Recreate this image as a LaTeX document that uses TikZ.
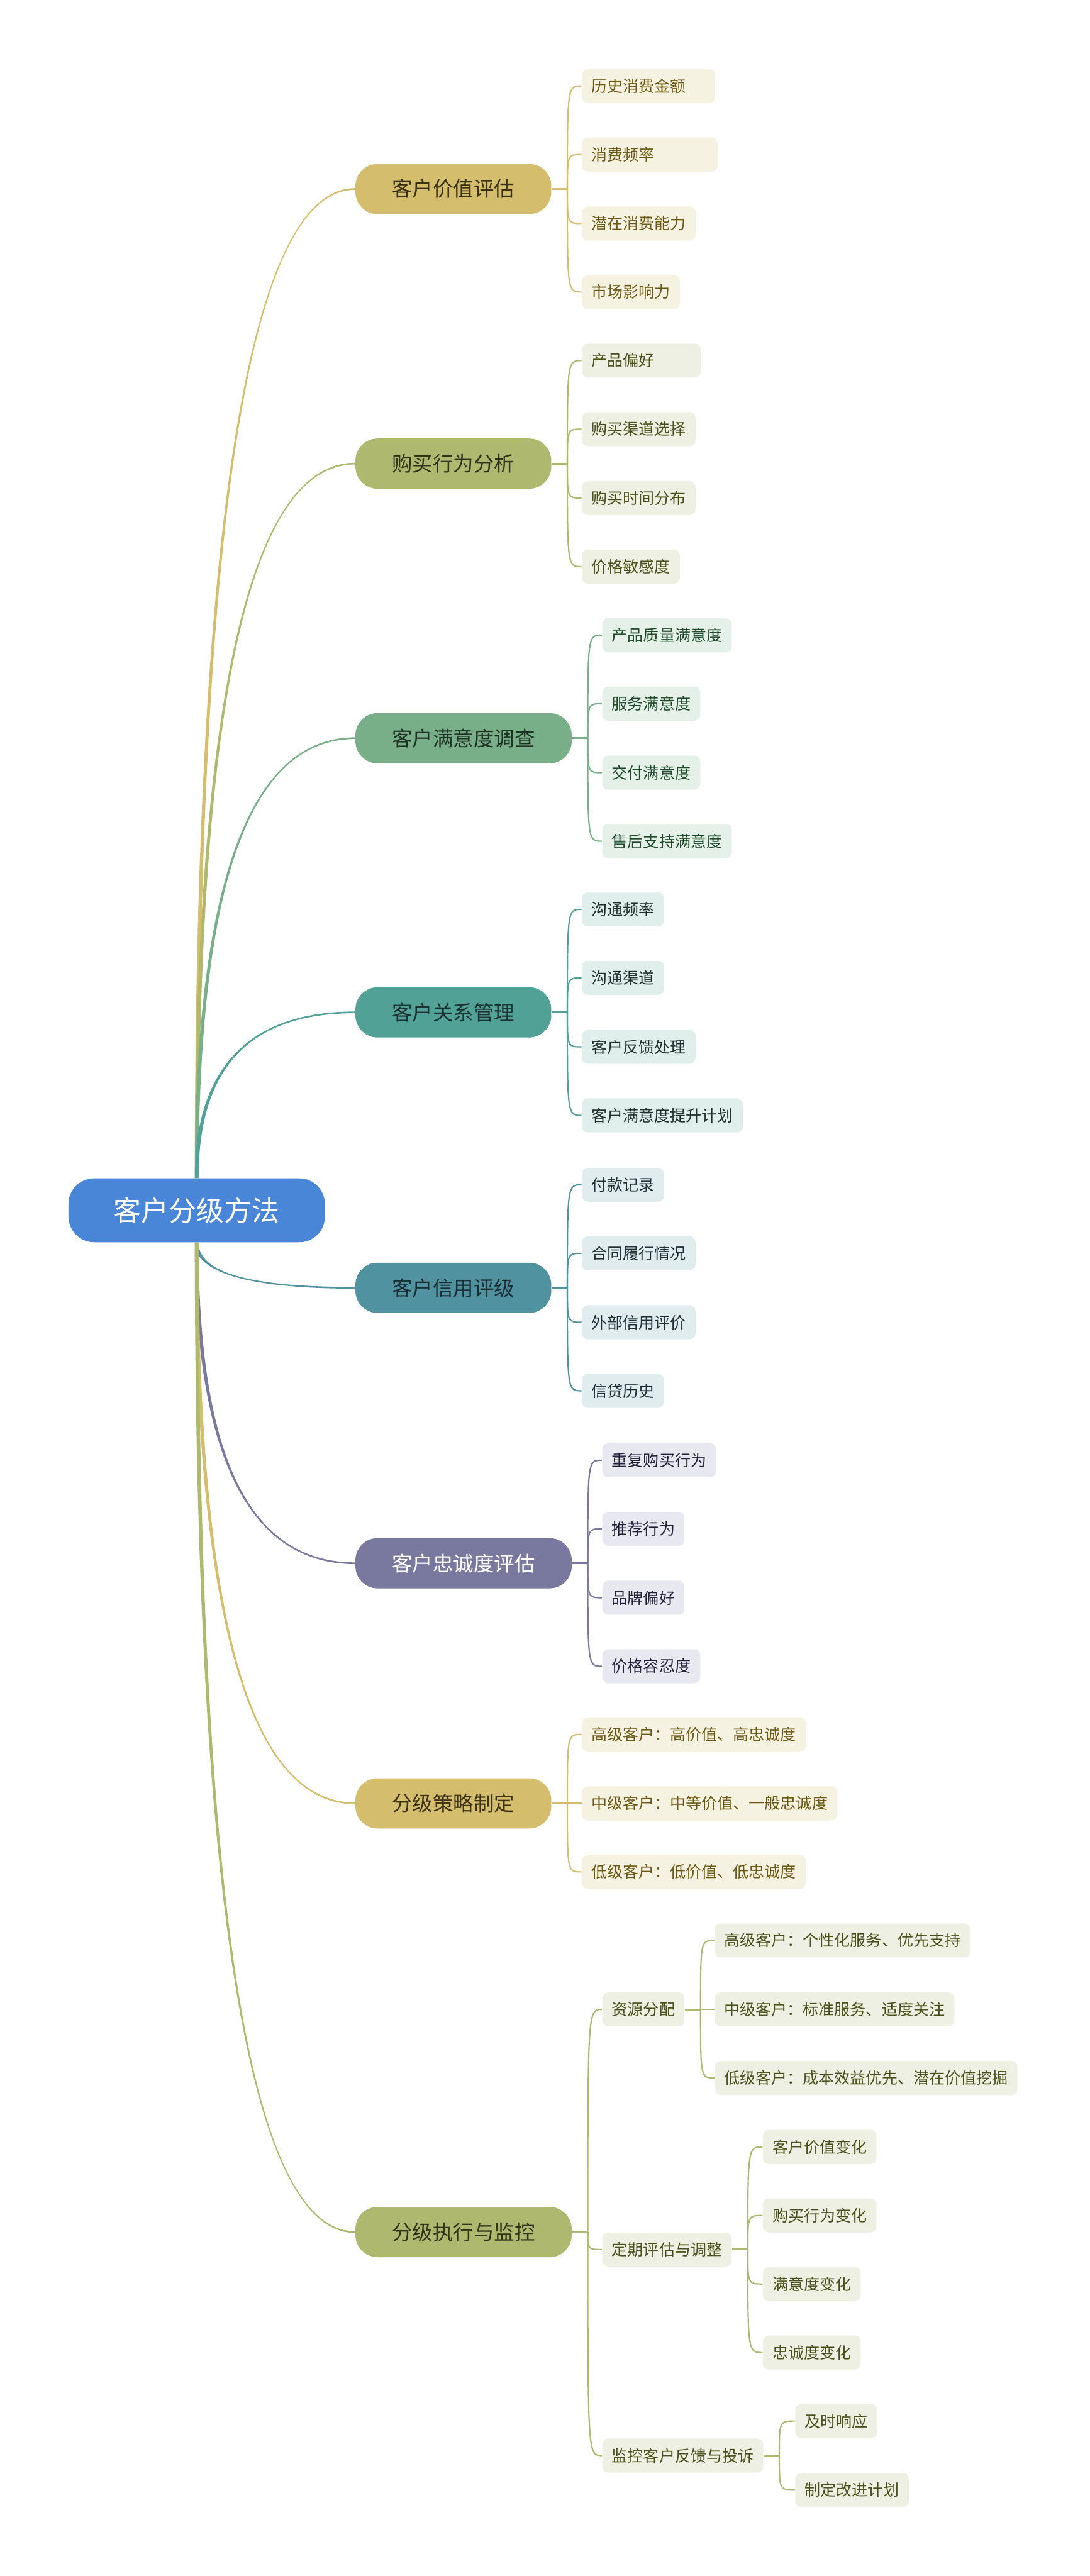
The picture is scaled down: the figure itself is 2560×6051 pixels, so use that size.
\documentclass[tikz,border=0pt]{standalone}
\usepackage{fontspec}
\setmainfont{Noto Sans CJK SC}
\usetikzlibrary{calc, backgrounds}

\definecolor{rootc}{HTML}{4A86D8}
\definecolor{goldc}{HTML}{D4BD6C}  \definecolor{goldtx}{HTML}{3B3214}
\definecolor{goldlf}{HTML}{F5F2E2} \definecolor{goldlt}{HTML}{6B5812}
\definecolor{olivec}{HTML}{AEB86E} \definecolor{olivetx}{HTML}{30351A}
\definecolor{olivelf}{HTML}{EFF0E4} \definecolor{olivelt}{HTML}{4A5019}
\definecolor{greenc}{HTML}{78AF88} \definecolor{greentx}{HTML}{1F3325}
\definecolor{greenlf}{HTML}{E4F0E8} \definecolor{greenlt}{HTML}{1E4A28}
\definecolor{tealc}{HTML}{52A197}  \definecolor{tealtx}{HTML}{1D3230}
\definecolor{teallf}{HTML}{E1EFEC} \definecolor{teallt}{HTML}{1F302E}
\definecolor{bluec}{HTML}{5092A0}  \definecolor{bluetx}{HTML}{1A2E33}
\definecolor{bluelf}{HTML}{E1ECEF} \definecolor{bluelt}{HTML}{1E3035}
\definecolor{purplec}{HTML}{79789F}
\definecolor{purplelf}{HTML}{E8E8F0} \definecolor{purplelt}{HTML}{22213A}

% tapered branch from the root to a topic (#4: 1 above the root, (-1) below)
\newcommand{\trunk}[4]{%
  \fill[#3] let \p1=(#1), \p2=(#2.west) in
    (\x1-1.1pt,\y1) .. controls (\x1-1.1pt,{\y1+0.667*(\y2-\y1)}) and ({\x2-0.667*(\x2-\x1)},{\y2+#4*0.5pt}) .. (\x2,{\y2+#4*0.5pt})
    -- (\x2,{\y2-#4*0.5pt}) .. controls ({\x2-0.667*(\x2-\x1)},{\y2-#4*0.5pt}) and (\x1+1.1pt,{\y1+0.667*(\y2-\y1)}) .. (\x1+1.1pt,\y1) -- cycle;}

\begin{document}
\begin{tikzpicture}[x=0.25pt, y=-0.25pt,
  rootbox/.style={fill=rootc, text=white, rounded corners=15pt, minimum height=37.5pt,
    inner xsep=26.5pt, inner ysep=0pt, text height=14.3pt, text depth=1.95pt,
    font=\fontsize{16.25}{18}\selectfont},
  topic/.style={anchor=west, rounded corners=13pt, minimum height=29.5pt, inner xsep=21.5pt,
    inner ysep=0pt, text height=10.56pt, text depth=1.44pt, font=\fontsize{12}{14}\selectfont},
  leaf/.style={anchor=west, rounded corners=3.5pt, minimum height=20pt, inner xsep=5.6pt,
    inner ysep=0pt, text height=8.14pt, text depth=1.11pt, font=\fontsize{9.25}{11}\selectfont},
  tgold/.style={topic, fill=goldc, text=goldtx},
  tolive/.style={topic, fill=olivec, text=olivetx},
  tgreen/.style={topic, fill=greenc, text=greentx},
  tteal/.style={topic, fill=tealc, text=tealtx},
  tblue/.style={topic, fill=bluec, text=bluetx},
  tpurple/.style={topic, fill=purplec, text=white},
  lgold/.style={leaf, fill=goldlf, text=goldlt},
  lolive/.style={leaf, fill=olivelf, text=olivelt},
  lgreen/.style={leaf, fill=greenlf, text=greenlt},
  lteal/.style={leaf, fill=teallf, text=teallt},
  lblue/.style={leaf, fill=bluelf, text=bluelt},
  lpurple/.style={leaf, fill=purplelf, text=purplelt},
  stub/.style={draw=#1, line width=1.1pt},
  twig/.style={draw=#1, line width=0.8pt}
]
\useasboundingbox (0,0) rectangle (2560,6051);

\node[rootbox] (root) at (462,2843) {客户分级方法};

\node[tgold]   (t1) at (834,444)  {客户价值评估};
\node[tolive]  (t2) at (834,1089) {购买行为分析};
\node[tgreen]  (t3) at (834,1734) {客户满意度调查};
\node[tteal]   (t4) at (834,2378) {客户关系管理};
\node[tblue]   (t5) at (834,3025) {客户信用评级};
\node[tpurple] (t6) at (834,3672) {客户忠诚度评估};
\node[tgold]   (t7) at (834,4236) {分级策略制定};
\node[tolive]  (t8) at (834,5243) {分级执行与监控};

\node[lgold] (a1) at (1366,202) {历史消费金额\kern11.5pt};
\node[lgold] (a2) at (1366,363) {消费频率\kern31.5pt};
\node[lgold] (a3) at (1366,525) {潜在消费能力};
\node[lgold] (a4) at (1366,686) {市场影响力};

\node[lolive] (b1) at (1366,847)  {产品偏好\kern21.5pt};
\node[lolive] (b2) at (1366,1008) {购买渠道选择};
\node[lolive] (b3) at (1366,1170) {购买时间分布};
\node[lolive] (b4) at (1366,1331) {价格敏感度};

\node[lgreen] (c1) at (1414,1492) {产品质量满意度};
\node[lgreen] (c2) at (1414,1653) {服务满意度};
\node[lgreen] (c3) at (1414,1815) {交付满意度};
\node[lgreen] (c4) at (1414,1976) {售后支持满意度};

\node[lteal] (d1) at (1366,2136) {沟通频率};
\node[lteal] (d2) at (1366,2297) {沟通渠道};
\node[lteal] (d3) at (1366,2459) {客户反馈处理};
\node[lteal] (d4) at (1366,2620) {客户满意度提升计划};

\node[lblue] (e1) at (1366,2783) {付款记录};
\node[lblue] (e2) at (1366,2944) {合同履行情况};
\node[lblue] (e3) at (1366,3106) {外部信用评价};
\node[lblue] (e4) at (1366,3267) {信贷历史};

\node[lpurple] (f1) at (1414,3430) {重复购买行为};
\node[lpurple] (f2) at (1414,3591) {推荐行为};
\node[lpurple] (f3) at (1414,3753) {品牌偏好};
\node[lpurple] (f4) at (1414,3914) {价格容忍度};

\node[lgold] (g1) at (1366,4074) {高级客户：高价值、高忠诚度};
\node[lgold] (g2) at (1366,4236) {中级客户：中等价值、一般忠诚度};
\node[lgold] (g3) at (1366,4397) {低级客户：低价值、低忠诚度};

\node[lolive] (r1) at (1414,4720) {资源分配};
\node[lolive] (r2) at (1414,5284) {定期评估与调整};
\node[lolive] (r3) at (1414,5768) {监控客户反馈与投诉};

\node[lolive] (r1a) at (1678,4558) {高级客户：个性化服务、优先支持};
\node[lolive] (r1b) at (1678,4720) {中级客户：标准服务、适度关注};
\node[lolive] (r1c) at (1678,4881) {低级客户：成本效益优先、潜在价值挖掘};

\node[lolive] (r2a) at (1791,5043) {客户价值变化};
\node[lolive] (r2b) at (1791,5204) {购买行为变化};
\node[lolive] (r2c) at (1791,5365) {满意度变化};
\node[lolive] (r2d) at (1791,5526) {忠诚度变化};

\node[lolive] (r3a) at (1867,5687) {及时响应};
\node[lolive] (r3b) at (1867,5849) {制定改进计划};

\begin{scope}[on background layer]
\fill[white] (0,0) rectangle (2560,6051);

\trunk{root.north}{t1}{goldc}{1}
\trunk{root.north}{t2}{olivec}{1}
\trunk{root.north}{t3}{greenc}{1}
\trunk{root.north}{t4}{tealc}{1}
\trunk{root.south}{t5}{bluec}{(-1)}
\trunk{root.south}{t6}{purplec}{(-1)}
\trunk{root.south}{t7}{goldc}{(-1)}
\trunk{root.south}{t8}{olivec}{(-1)}

\foreach \p/\c/\ls in {t1/goldc/{a1,a2,a3,a4}, t2/olivec/{b1,b2,b3,b4},
    t3/greenc/{c1,c2,c3,c4}, t4/tealc/{d1,d2,d3,d4}, t5/bluec/{e1,e2,e3,e4},
    t6/purplec/{f1,f2,f3,f4}, t7/goldc/{g1,g2,g3}, t8/olivec/{r1,r2,r3},
    r1/olivec/{r1a,r1b,r1c}, r2/olivec/{r2a,r2b,r2c,r2d}, r3/olivec/{r3a,r3b}} {
  \draw[stub=\c] (\p.east) -- ++(37,0) coordinate (\p s);
  \foreach \l in \ls \draw[twig=\c] (\p s) .. controls (\p s |- \l.west) .. (\l.west);
}
\end{scope}
\end{tikzpicture}
\end{document}
